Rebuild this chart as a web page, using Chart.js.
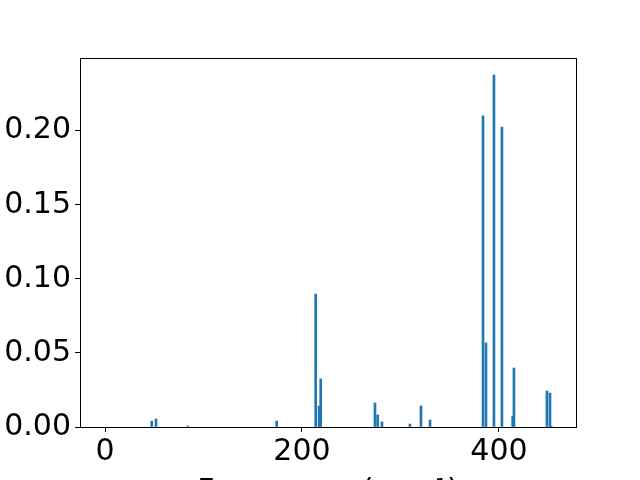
<!DOCTYPE html>
<html>
<head>
<meta charset="utf-8">
<script src="https://cdn.jsdelivr.net/npm/chart.js@4"></script>
<style>
html,body{margin:0;padding:0;overflow:hidden;background:#fff;}
#wrap{width:640px;height:480px;overflow:hidden;}
</style>
</head>
<body>
<div id="wrap"><canvas id="c" width="640" height="520"></canvas></div>
<script>
const frequencies = [47.4, 51.8, 84.0, 174.3, 213.9, 217.3, 219.0, 274.1, 276.8, 281.2, 309.6, 320.8, 330.0, 383.8, 386.8, 394.9, 403.0, 413.9, 415.2, 448.7, 451.8, 453.0];
const intensities = [0.0040, 0.0054, 0.0007, 0.0040, 0.0897, 0.0142, 0.0324, 0.0162, 0.0081, 0.0034, 0.0020, 0.0142, 0.0047, 0.2099, 0.0567, 0.2375, 0.2024, 0.0074, 0.0398, 0.0243, 0.0229, 0.0006];
const xTickValues = [0, 200, 400];
const yTickValues = [0.00, 0.05, 0.10, 0.15, 0.20];
const xTitle = 'Frequency (cm\u207B\u00B9)';

const points = frequencies.map((f, i) => ({x: f, y: intensities[i]}));
const FONT = {family: 'DejaVu Sans', size: 30};

const boxPlugin = {
  id: 'box',
  afterDraw(chart) {
    const a = chart.chartArea, ctx = chart.ctx;
    ctx.save();
    ctx.strokeStyle = '#000';
    ctx.lineWidth = 1;
    ctx.strokeRect(Math.round(a.left) + 0.5, Math.round(a.top) + 0.5, Math.round(a.right - a.left), Math.round(a.bottom - a.top));
    ctx.restore();
  }
};

new Chart(document.getElementById('c'), {
  type: 'bar',
  data: {
    datasets: [{
      data: points,
      backgroundColor: '#1f77b4',
      borderWidth: 0,
      barThickness: 2
    }]
  },
  options: {
    responsive: false,
    animation: false,
    events: [],
    layout: {padding: {top: 58, right: 64, left: 0, bottom: 0}},
    plugins: {legend: {display: false}, tooltip: {enabled: false}},
    scales: {
      x: {
        type: 'linear',
        offset: false,
        min: -25.4,
        max: 478.2,
        afterBuildTicks(s) { s.ticks = xTickValues.map(v => ({value: v})); },
        afterFit(s) { s.height = 93; },
        grid: {display: true, drawOnChartArea: false, drawTicks: true, tickLength: 5, color: '#000', offset: false},
        border: {display: true, color: '#000', width: 1},
        ticks: {color: '#000', font: FONT, padding: 2, maxRotation: 0, callback: v => String(v)},
        title: {display: true, text: xTitle, color: '#000', font: FONT, padding: {top: 0, bottom: 10}}
      },
      y: {
        min: 0,
        max: 0.249,
        afterBuildTicks(s) { s.ticks = yTickValues.map(v => ({value: v})); },
        afterFit(s) { s.width = 80; },
        grid: {display: true, drawOnChartArea: false, drawTicks: true, tickLength: 5, color: '#000'},
        border: {display: true, color: '#000', width: 1},
        ticks: {color: '#000', font: FONT, padding: 4, callback: v => Number(v).toFixed(2)}
      }
    }
  },
  plugins: [boxPlugin]
});
</script>
</body>
</html>
